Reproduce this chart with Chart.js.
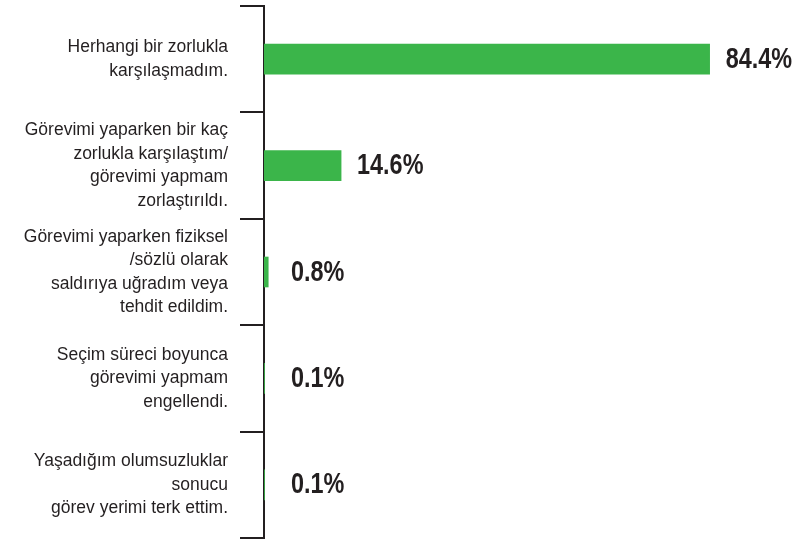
<!DOCTYPE html>
<html>
<head>
<meta charset="utf-8">
<script src="https://cdn.jsdelivr.net/npm/chart.js@4.4.1/dist/chart.umd.min.js"></script>
<style>
  html, body { margin: 0; padding: 0; background: #ffffff; }
  #wrap { width: 797px; height: 540px; position: relative; }
</style>
</head>
<body>
<div id="wrap"><canvas id="c"></canvas></div>
<script>
const categories = [
  ["Herhangi bir zorlukla", "karşılaşmadım."],
  ["Görevimi yaparken bir kaç", "zorlukla karşılaştım/", "görevimi yapmam", "zorlaştırıldı."],
  ["Görevimi yaparken fiziksel", "/sözlü olarak", "saldırıya uğradım veya", "tehdit edildim."],
  ["Seçim süreci boyunca", "görevimi yapmam", "engellendi."],
  ["Yaşadığım olumsuzluklar", "sonucu", "görev yerimi terk ettim."]
];
const values = [84.4, 14.6, 0.8, 0.1, 0.1];

const GREEN = '#3bb54a';
const DARK = '#231f20';

const valueLabels = {
  id: 'valueLabels',
  afterDatasetsDraw(chart) {
    const ctx = chart.ctx;
    const meta = chart.getDatasetMeta(0);
    const left = chart.chartArea.left;
    ctx.save();
    ctx.fillStyle = DARK;
    ctx.font = 'bold 30px "Liberation Sans", Arial, sans-serif';
    ctx.textBaseline = 'alphabetic';
    ctx.textAlign = 'left';
    meta.data.forEach((bar, i) => {
      const x = Math.max(bar.x + 16, left + 27);
      const txt = values[i].toFixed(1) + '%';
      ctx.save();
      ctx.translate(x, bar.y + 8.5);
      ctx.scale(0.78, 1);
      ctx.fillText(txt, 0, 0);
      ctx.restore();
    });
    ctx.restore();
  }
};

new Chart(document.getElementById('c'), {
  type: 'bar',
  data: {
    labels: categories,
    datasets: [{
      data: values,
      backgroundColor: GREEN,
      borderWidth: 0,
      barThickness: 30
    }]
  },
  options: {
    indexAxis: 'y',
    responsive: true,
    maintainAspectRatio: false,
    animation: false,
    layout: { padding: { top: 6, right: 5, bottom: 2, left: 0 } },
    plugins: {
      legend: { display: false },
      tooltip: { enabled: false }
    },
    scales: {
      x: {
        display: false,
        min: 0,
        max: 100
      },
      y: {
        afterFit(axis) {
          axis.width = 264;
          axis.paddingTop = 0;
          axis.paddingBottom = 0;
        },
        border: { display: true, color: DARK, width: 2 },
        grid: {
          display: true,
          offset: true,
          drawOnChartArea: false,
          drawTicks: true,
          tickLength: 24,
          color: DARK,
          lineWidth: 2
        },
        ticks: {
          padding: 12,
          color: DARK,
          font: { family: '"Liberation Sans", Arial, sans-serif', size: 17.5, lineHeight: 1.34 }
        }
      }
    }
  },
  plugins: [valueLabels]
});
</script>
</body>
</html>
